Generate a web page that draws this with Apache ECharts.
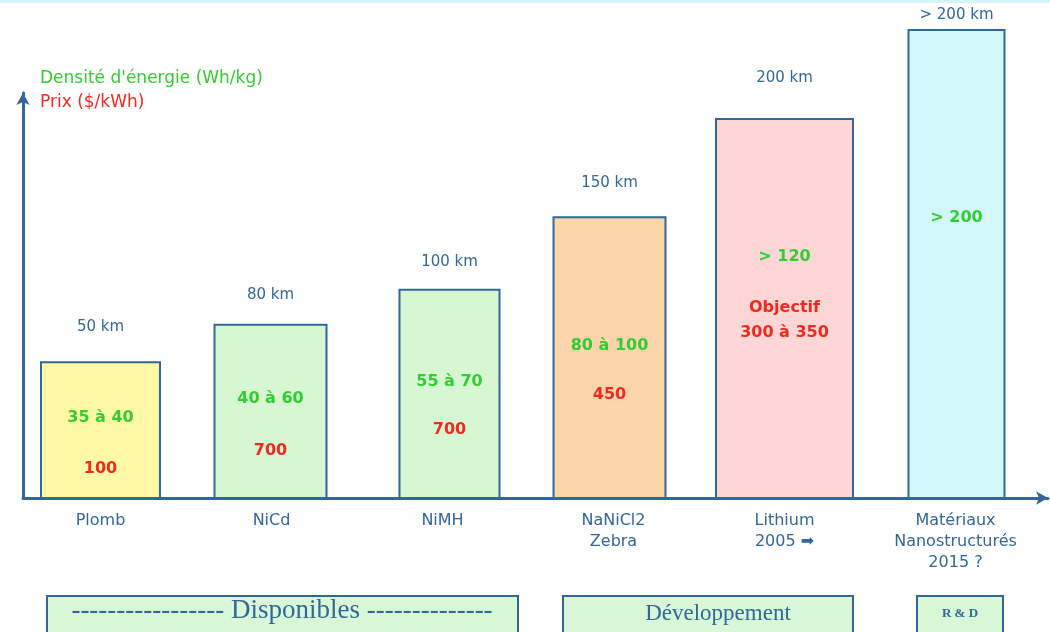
<!DOCTYPE html>
<html>
<head>
<meta charset="utf-8">
<script src="https://cdn.jsdelivr.net/npm/echarts@6/dist/echarts.min.js"></script>
<style>
  html, body { margin: 0; padding: 0; background: #fff; }
  #chart { width: 1050px; height: 632px; }
</style>
</head>
<body>
<div id="chart"></div>
<script>
// données
var categories = ['Plomb', 'NiCd', 'NiMH', 'NaNiCl2\nZebra', 'Lithium\n2005 ➡', 'Matériaux\nNanostructurés\n2015 ?'];
var hauteurs = [29, 37, 44.5, 60, 81, 100]; // hauteur relative des barres
var autonomies = ['50 km', '80 km', '100 km', '150 km', '200 km', '> 200 km'];
var densites = ['35 à 40', '40 à 60', '55 à 70', '80 à 100', '> 120', '> 200'];
var prix = ['100', '700', '700', '450', 'Objectif\n300 à 350', ''];

// style
var couleurs = ['#fff9a6', '#d6f7d2', '#d6f7d2', '#fbd5a9', '#fdd6d6', '#d3f8fb'];
var largeurs = [119, 112, 100, 112, 137, 96];
var decalX = [0, -1, 7, -4, 0, 1];
var decalKm = [35, 30, 28, 34, 41, 15];
var decalDensite = [-12, -13, -12, -12, -52, -46];
var decalPrix = [39, 39, 36, 37, 12, 0];
var bleu = '#33679a';
var vert = '#33cc33';
var rouge = '#f02a20';
var police = '"DejaVu Sans", Verdana, sans-serif';
var serif = '"Liberation Serif", "DejaVu Serif", serif';

var donnees = hauteurs.map(function (h, i) { return [i, h]; });

function dessinerBarre(params, api) {
    var i = params.dataIndex;
    var haut = api.coord([api.value(0), api.value(1)]);
    var bas = api.coord([api.value(0), 0]);
    var w = largeurs[i];
    var cx = haut[0] + decalX[i];
    var milieu = (haut[1] + bas[1]) / 2;
    return {
        type: 'group',
        children: [{
            type: 'rect',
            shape: { x: cx - w / 2, y: haut[1], width: w, height: bas[1] - haut[1] },
            style: { fill: couleurs[i], stroke: bleu, lineWidth: 2 }
        }, {
            type: 'text',
            style: {
                text: autonomies[i], x: cx, y: haut[1] - decalKm[i],
                align: 'center', verticalAlign: 'middle',
                fill: bleu, font: '15px ' + police
            }
        }, {
            type: 'text',
            style: {
                text: densites[i], x: cx, y: milieu + decalDensite[i],
                align: 'center', verticalAlign: 'middle',
                fill: vert, font: 'bold 16px ' + police
            }
        }, {
            type: 'text',
            style: {
                text: prix[i], x: cx, y: milieu + decalPrix[i],
                align: 'center', verticalAlign: 'middle', lineHeight: 25,
                fill: rouge, font: 'bold 16px ' + police
            }
        }]
    };
}

var option = {
    backgroundColor: '#fff',
    animation: false,
    grid: [
        { left: 15, right: 9, top: 30, bottom: 134 },   // barres
        { left: 23, right: 2, top: 93, bottom: 134 }    // axes fléchés
    ],
    xAxis: [{
        type: 'category',
        gridIndex: 0,
        data: categories,
        axisLine: { show: false },
        axisTick: { show: false },
        axisLabel: {
            interval: 0, margin: 12, lineHeight: 21,
            color: bleu, fontSize: 16, fontFamily: police
        }
    }, {
        type: 'value',
        gridIndex: 1,
        min: 0, max: 1,
        axisLine: {
            show: true, symbol: ['none', 'arrow'], symbolSize: [10, 12],
            lineStyle: { color: bleu, width: 3 }
        },
        axisTick: { show: false },
        axisLabel: { show: false },
        splitLine: { show: false }
    }],
    yAxis: [{
        type: 'value',
        gridIndex: 0,
        min: 0, max: 100,
        show: false
    }, {
        type: 'value',
        gridIndex: 1,
        min: 0, max: 1,
        axisLine: {
            show: true, symbol: ['none', 'arrow'], symbolSize: [10, 12],
            lineStyle: { color: bleu, width: 3 }
        },
        axisTick: { show: false },
        axisLabel: { show: false },
        splitLine: { show: false }
    }],
    series: [{
        type: 'custom',
        xAxisIndex: 0,
        yAxisIndex: 0,
        renderItem: dessinerBarre,
        data: donnees
    }],
    graphic: [
        { type: 'rect', shape: { x: 0, y: 0, width: 1050, height: 3 }, style: { fill: '#d6f3f7' } },
        { type: 'text', style: { text: "Densité d'énergie (Wh/kg)", x: 40, y: 79, verticalAlign: 'middle', fill: vert, font: '17px ' + police } },
        { type: 'text', style: { text: 'Prix ($/kWh)', x: 40, y: 103, verticalAlign: 'middle', fill: rouge, font: '17px ' + police } },
        // cartouches du bas
        { type: 'rect', shape: { x: 47, y: 596, width: 471, height: 40 }, style: { fill: '#d8f8d8', stroke: bleu, lineWidth: 2 } },
        { type: 'text', style: { text: '----------------- Disponibles --------------', x: 282, y: 611, align: 'center', verticalAlign: 'middle', fill: bleu, font: '27px ' + serif } },
        { type: 'rect', shape: { x: 563, y: 596, width: 290, height: 40 }, style: { fill: '#d8f8d8', stroke: bleu, lineWidth: 2 } },
        { type: 'text', style: { text: 'Développement', x: 718, y: 614, align: 'center', verticalAlign: 'middle', fill: bleu, font: '23px ' + serif } },
        { type: 'rect', shape: { x: 917, y: 596, width: 86, height: 40 }, style: { fill: '#d8f8d8', stroke: bleu, lineWidth: 2 } },
        { type: 'text', style: { text: 'R & D', x: 960, y: 614, align: 'center', verticalAlign: 'middle', fill: bleu, font: 'bold 13px ' + serif } }
    ]
};

var myChart = echarts.init(document.getElementById('chart'));
myChart.setOption(option);
</script>
</body>
</html>
